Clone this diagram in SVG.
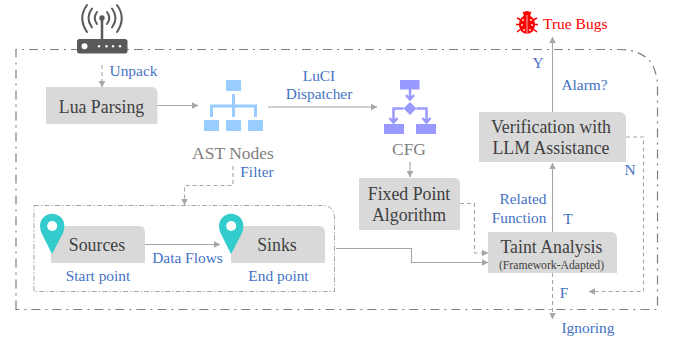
<svg xmlns="http://www.w3.org/2000/svg" width="675" height="339" viewBox="0 0 675 339">
<style>
text{font-family:"Liberation Serif","Times New Roman",serif}
.n{font-size:17.800px;fill:#404040;text-anchor:middle}
.b{font-size:15.400px;fill:#4472c4;text-anchor:middle}
.g{font-size:17.500px;fill:#7f7f7f;text-anchor:middle}
.box{fill:#d9d9d9}
.c{fill:none;stroke:#a6a6a6;stroke-width:1.100}
.d{stroke-dasharray:4 3}
.ast{fill:#99ccff}
.astl{fill:none;stroke:#99ccff;stroke-width:3}
.cfg{fill:#9999ff}
.cfgl{fill:none;stroke:#9999ff;stroke-width:2.500}
.pin{fill:#33cccc}
</style>
<defs>
<marker id="a" viewBox="0 0 8 8" refX="7.500" refY="4" markerWidth="6.500" markerHeight="6.500" markerUnits="userSpaceOnUse" orient="auto"><path d="M0 0L8 4L0 8Z" fill="#a6a6a6"/></marker>
</defs>
<g id="boundary" fill="none">
<path d="M16 309.500V49.500H619Q657.500 49.500 657.500 88V309.500H16Z" stroke="#7f7f7f" stroke-width="1.200" stroke-dasharray="9 5 2 5"/>
<path d="M34 205.500H322Q334.500 205.500 334.500 218V291.500H34Z" stroke="#7f7f7f" stroke-width="0.700" stroke-dasharray="5 2 1.500 2"/>
</g>
<g id="connectors">
<path class="c d" d="M102 65V87" marker-end="url(#a)"/>
<path class="c" d="M157 105.500H198" marker-end="url(#a)"/>
<path class="c" d="M268 107H377" marker-end="url(#a)"/>
<path class="c d" d="M233 166V185.500H184.500V205" marker-end="url(#a)"/>
<path class="c" d="M410 162V177" marker-end="url(#a)"/>
<path class="c" d="M145 244.500H220" marker-end="url(#a)"/>
<path class="c" d="M336 248.500H411.500V262.500H488" marker-end="url(#a)"/>
<path class="c d" d="M460 203.500H474.500V253H488" marker-end="url(#a)"/>
<path class="c" d="M552.500 232V163" marker-end="url(#a)"/>
<path class="c" d="M552.500 112V37" marker-end="url(#a)"/>
<path class="c d" d="M626 137H643.500V291.500H589" marker-end="url(#a)"/>
<path class="c d" d="M552.500 273V319" marker-end="url(#a)"/>
</g>
<g id="router">
<rect x="77" y="39" width="50.500" height="14.500" rx="2.500" fill="#595959"/>
<circle cx="84.500" cy="46.200" r="3" fill="#fff"/>
<g fill="#fff"><circle cx="99" cy="46.200" r="1.200"/><circle cx="106.500" cy="46.200" r="1.200"/><circle cx="113" cy="46.200" r="1.200"/><circle cx="120" cy="46.200" r="1.200"/></g>
<path d="M102 19V39" stroke="#595959" stroke-width="2.500"/>
<circle cx="102" cy="18" r="2.700" fill="#595959"/>
<g fill="none" stroke="#595959" stroke-width="2" stroke-linecap="round">
<path d="M97 12Q92.500 18 97 24M107 12Q111.500 18 107 24"/>
<path d="M92 8.500Q85 18 92 27.500M112 8.500Q119 18 112 27.500"/>
<path d="M87 5Q77.500 18 87 32M117 5Q126.500 18 117 32"/>
</g>
</g>
<g id="lua"><path class="box" d="M46 87H151Q157.500 87 157.500 93.500V124H46Z"/><text class="n" x="101.500" y="112.500">Lua Parsing</text></g>
<text class="b" x="133.500" y="76">Unpack</text>
<g id="ast">
<rect class="ast" x="226" y="80" width="15" height="11"/><rect class="ast" x="204" y="120" width="15" height="11"/><rect class="ast" x="226" y="120" width="15" height="11"/><rect class="ast" x="248" y="120" width="15" height="11"/>
<path class="astl" d="M233.500 94V117M211.500 117V106H255.500V117"/>
<text class="g" x="233" y="159">AST Nodes</text>
</g>
<text class="b" x="319" y="81">LuCI</text>
<text class="b" x="319" y="99">Dispatcher</text>
<text class="b" x="257" y="177">Filter</text>
<g id="cfg">
<rect class="cfg" x="400" y="80" width="19.500" height="9.500"/>
<rect class="cfg" x="384" y="124" width="20" height="10"/><rect class="cfg" x="416" y="124" width="20" height="10"/>
<path class="cfg" d="M410 102L416.500 108.500L410 115L403.500 108.500Z"/>
<path class="cfgl" d="M410 89V99M406 95L410 99.500L414 95M403.500 108.500H393.500V122M389.500 118L393.500 122.500L397.500 118M416.500 108.500H426.500V122M422.500 118L426.500 122.500L430.500 118"/>
<text class="g" x="409" y="155">CFG</text>
</g>
<g id="fixed"><path class="box" d="M359 178H454Q460 178 460 184V230H359Z"/><text class="n" x="409" y="200">Fixed Point</text><text class="n" x="409" y="221">Algorithm</text></g>
<g id="verification"><path class="box" d="M479 112H619Q626 112 626 119V162H479Z"/><text class="n" x="551" y="133">Verification with</text><text class="n" x="551" y="154">LLM Assistance</text></g>
<g id="taint"><path class="box" d="M488 232H611Q617 232 617 238V273H488Z"/><text class="n" x="551.500" y="253">Taint Analysis</text><text x="551.500" y="269" text-anchor="middle" font-size="11.700" fill="#404040">(Framework-Adapted)</text></g>
<g id="sources"><path class="box" d="M51 226H139Q145 226 145 232V263H51Z"/><path class="pin" d="M52 254L42.500 235Q40 230.500 40 226A12.200 12.200 0 0 1 64.400 226Q64.400 230.500 62 235Z"/><circle cx="52.200" cy="226" r="5" fill="#fff"/><text class="n" x="97" y="251">Sources</text></g>
<g id="sinks"><path class="box" d="M231 226H319Q325 226 325 232V263H231Z"/><path class="pin" d="M231 254L221.500 235Q219 230.500 219 226A12.200 12.200 0 0 1 243.400 226Q243.400 230.500 241 235Z"/><circle cx="231.200" cy="226" r="5" fill="#fff"/><text class="n" x="277" y="251">Sinks</text></g>
<text class="b" x="98" y="281">Start point</text>
<text class="b" x="278.500" y="281">End point</text>
<text class="b" x="187.500" y="263">Data Flows</text>
<text class="b" x="523" y="204">Related</text><text class="b" x="519" y="223">Function</text>
<text class="b" x="568" y="224">T</text>
<text class="b" x="564" y="298">F</text>
<text class="b" x="588" y="333">Ignoring</text>
<text class="b" x="630" y="175">N</text>
<text class="b" x="538" y="68">Y</text>
<text class="b" x="584.500" y="90">Alarm?</text>
<g id="truebugs">
<g fill="#ff0000"><ellipse cx="527" cy="24.500" rx="8" ry="9.500"/><circle cx="527" cy="14.500" r="3.500"/>
<path d="M517 18L521 20M516 24.500H520M517 32L521 29M537 18L533 20M538 24.500H534M537 32L533 29M523 12L525 14M531 12L529 14" stroke="#ff0000" stroke-width="1.500"/></g>
<path d="M527 15V34" stroke="#fff" stroke-width="0.700"/>
<g fill="#fff"><circle cx="523" cy="20" r="0.900"/><circle cx="531" cy="20" r="0.900"/><circle cx="522" cy="25" r="0.900"/><circle cx="532" cy="25" r="0.900"/><circle cx="524" cy="30" r="0.900"/><circle cx="530" cy="30" r="0.900"/></g>
<text x="543" y="29" font-size="15.500" fill="#ff0000">True Bugs</text>
</g>
</svg>
